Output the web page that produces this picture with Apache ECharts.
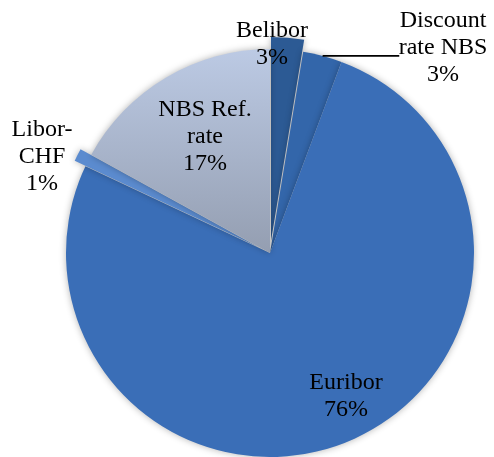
<!DOCTYPE html>
<html>
<head>
<meta charset="utf-8">
<script src="https://cdn.jsdelivr.net/npm/echarts@6/dist/echarts.min.js"></script>
<style>
  html, body { margin: 0; padding: 0; background: #fff; }
  #chart { width: 494px; height: 457px; }
</style>
</head>
<body>
<div id="chart"></div>
<script>
// Share of loans by reference interest rate (%)
const categories = ['Belibor', 'Discount rate NBS', 'Euribor', 'Libor-CHF', 'NBS Ref. rate'];
const shares = [2.6, 3.1, 76.3, 1.0, 17.0];
const labelLines = [
  ['Belibor'],
  ['Discount', 'rate NBS'],
  ['Euribor'],
  ['Libor-', 'CHF'],
  ['NBS Ref.', 'rate']
];
const exploded = [true, false, false, true, false];
const sliceColors = [
  '#2c5a94',
  '#3366aa',
  '#3a6eb7',
  '#5b8bcf',
  new echarts.graphic.LinearGradient(0, 0, 0, 1, [
    { offset: 0, color: '#bccae4' },
    { offset: 1, color: '#949eb1' }
  ])
];
// label anchor points (centre of each text block)
const labelAnchors = [
  [272, 44],
  [443, 48],
  [346, 396],
  [42, 157],
  [205, 137]
];

const pieCenter = [270, 253];
const pieRadius = 204;

const chart = echarts.init(document.getElementById('chart'), null, { renderer: 'canvas' });

chart.setOption({
  animation: false,
  series: [
    {
      // slices, two of them pulled out
      type: 'pie',
      center: pieCenter,
      radius: pieRadius,
      startAngle: 90,
      clockwise: true,
      selectedMode: 'multiple',
      selectedOffset: 12,
      emphasis: { disabled: true },
      itemStyle: {
        borderWidth: 0,
        shadowBlur: 7,
        shadowColor: 'rgba(0,0,0,0.3)'
      },
      label: { show: false },
      labelLine: { show: false },
      data: categories.map((name, i) => ({
        name,
        value: shares[i],
        selected: exploded[i],
        itemStyle: { color: sliceColors[i] }
      }))
    },
    {
      // text layer: name and rounded share of every slice
      type: 'pie',
      center: pieCenter,
      radius: pieRadius,
      startAngle: 90,
      clockwise: true,
      silent: true,
      z: 5,
      emphasis: { disabled: true },
      avoidLabelOverlap: false,
      itemStyle: { color: 'rgba(0,0,0,0)' },
      label: {
        show: true,
        position: 'outside',
        fontFamily: 'Liberation Serif',
        fontSize: 24,
        lineHeight: 27,
        color: '#000',
        align: 'center',
        formatter: p => labelLines[p.dataIndex].concat(Math.round(p.percent) + '%').join('\n')
      },
      labelLine: { show: false },
      labelLayout: p => {
        const [cx, cy] = labelAnchors[p.dataIndex];
        const out = { x: cx, y: cy, align: 'center', verticalAlign: 'middle' };
        if (p.dataIndex === 1 && p.labelLinePoints) {
          // straight horizontal leader from the slice edge to the text block
          const start = p.labelLinePoints[0];
          out.labelLinePoints = [[start[0], start[1]], [cx - p.rect.width / 2 - 8, start[1]]];
        }
        return out;
      },
      data: categories.map((name, i) => ({
        name,
        value: shares[i],
        labelLine: i === 1 ? { show: true, lineStyle: { color: '#000', width: 1.6 }, length: 8, length2: 60 } : { show: false }
      }))
    }
  ]
});
</script>
</body>
</html>
